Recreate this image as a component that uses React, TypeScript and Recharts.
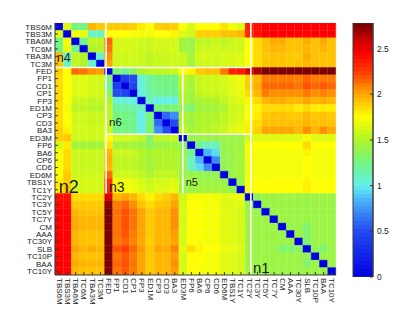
import React from 'react';
import { BarChart, Bar, Cell, XAxis, YAxis, ReferenceLine, ReferenceDot } from 'recharts';

const labels = ['TBS6M','TBS3M','TBA6M','TC6M','TBA3M','TC3M','FED','FP1','CD1','CP1','FP3','ED1M','CP3','CD3','BA3','ED3M','FP6','BA6','CP6','CD6','ED6M','TBS1Y','TC1Y','TC2Y','TC3Y','TC5Y','TC7Y','CM','AAA','TC30Y','SLB','TC10P','BAA','TC10Y'];

// distance matrix, one row per label (rows top to bottom, columns left to right)
const distances: number[][] = [
  [0,1.65,1.25,1.25,1.95,1.9, 1.9,1.9,1.9,1.88,1.8,1.75,1.88,1.9,1.88, 1.75,1.62,1.75,1.75,1.75,1.82,1.72,1.65, 2.35,2.4,2.45,2.45,2.45,2.45,2.45,2.45,2.45,2.45,2.45],
  [1.65,0,1.72,1.68,1.1,1.1, 1.75,1.75,1.75,1.72,1.72,1.7,1.75,1.75,1.78, 1.65,1.6,1.88,1.88,1.88,1.92,1.92,1.95, 2.32,2.4,2.45,2.45,2.45,2.45,2.45,2.45,2.45,2.45,2.45],
  [1.25,1.72,0,1.22,1.55,1.55, 2.15,1.62,1.62,1.62,1.6,1.58,1.62,1.62,1.62, 1.45,1.4,1.55,1.55,1.58,1.55,1.58,1.6, 1.75,1.85,1.92,1.98,1.98,1.92,1.92,1.98,1.92,1.98,1.92],
  [1.25,1.68,1.22,0,1.5,1.5, 2.12,1.62,1.62,1.62,1.58,1.58,1.6,1.6,1.62, 1.45,1.42,1.58,1.58,1.6,1.58,1.6,1.6, 1.75,1.85,1.92,1.95,1.95,1.92,1.92,1.95,1.92,1.95,1.92],
  [1.95,1.1,1.55,1.5,0,1.08, 2.05,1.6,1.6,1.6,1.58,1.55,1.58,1.58,1.6, 1.58,1.45,1.62,1.62,1.6,1.62,1.62,1.65, 1.75,1.85,1.9,1.92,1.92,1.9,1.9,1.98,1.92,1.92,1.92],
  [1.9,1.1,1.55,1.5,1.08,0, 2.0,1.6,1.6,1.6,1.58,1.55,1.58,1.58,1.6, 1.58,1.45,1.6,1.6,1.6,1.62,1.62,1.65, 1.75,1.85,1.92,1.92,1.92,1.9,1.92,1.95,1.92,1.92,1.92],
  [1.88,1.75,2.15,2.12,2.05,2.02, 0,1.3,1.22,1.35,1.5,1.55,1.55,1.55,1.58, 1.75,1.78,1.9,1.92,1.92,2.12,2.35,2.38, 2.55,2.65,2.75,2.75,2.75,2.75,2.75,2.75,2.75,2.75,2.75],
  [1.85,1.75,1.65,1.65,1.62,1.62, 1.3,0,0.4,0.5,1.05,1.18,1.25,1.25,1.25, 1.55,1.48,1.58,1.6,1.6,1.62,1.68,1.7, 1.88,1.95,2.1,2.1,2.1,2.1,2.08,2.15,2.1,2.1,2.1],
  [1.85,1.75,1.65,1.65,1.62,1.62, 1.22,0.4,0,0.45,1.05,1.18,1.25,1.25,1.25, 1.55,1.45,1.58,1.6,1.6,1.62,1.66,1.7, 1.9,1.98,2.15,2.15,2.15,2.15,2.12,2.2,2.15,2.18,2.15],
  [1.85,1.75,1.65,1.65,1.62,1.62, 1.35,0.5,0.45,0,1.02,1.15,1.22,1.22,1.22, 1.5,1.45,1.55,1.58,1.58,1.6,1.65,1.68, 1.85,1.95,2.1,2.05,2.05,2.05,2.05,2.1,2.05,2.08,2.05],
  [1.85,1.75,1.58,1.58,1.55,1.55, 1.5,1.05,1.05,1.02,0,1.1,1.0,1.0,1.02, 1.5,1.42,1.48,1.5,1.5,1.55,1.62,1.65, 1.78,1.85,1.95,1.98,1.98,1.95,1.95,2.0,1.95,1.98,1.95],
  [1.85,1.72,1.55,1.55,1.52,1.52, 1.55,1.18,1.18,1.15,1.1,0,1.28,1.28,1.3, 1.38,1.3,1.45,1.45,1.45,1.5,1.58,1.6, 1.72,1.78,1.85,1.85,1.85,1.85,1.8,1.85,1.8,1.8,1.8],
  [1.85,1.75,1.6,1.6,1.58,1.58, 1.55,1.25,1.25,1.22,1.0,1.28,0,0.6,0.72, 1.5,1.45,1.5,1.5,1.5,1.55,1.6,1.62, 1.75,1.8,1.9,1.92,1.92,1.9,1.9,1.95,1.9,1.92,1.9],
  [1.85,1.75,1.6,1.6,1.58,1.58, 1.55,1.25,1.25,1.22,1.0,1.28,0.6,0,0.5, 1.5,1.42,1.5,1.5,1.52,1.55,1.62,1.65, 1.78,1.85,1.92,1.92,1.92,1.92,1.92,1.95,1.92,1.92,1.92],
  [1.88,1.78,1.62,1.62,1.6,1.6, 1.58,1.25,1.25,1.22,1.02,1.3,0.72,0.5,0, 1.55,1.45,1.5,1.52,1.55,1.58,1.65,1.68, 1.8,1.88,2.0,2.0,2.0,2.0,1.95,2.05,1.95,2.05,1.98],
  [1.88,1.9,1.6,1.6,1.6,1.6, 1.75,1.62,1.62,1.6,1.55,1.35,1.55,1.55,1.58, 0,1.4,1.42,1.42,1.42,1.42,1.42,1.42, 1.6,1.65,1.65,1.65,1.65,1.65,1.65,1.72,1.65,1.65,1.65],
  [1.62,1.8,1.45,1.45,1.45,1.45, 1.82,1.45,1.45,1.45,1.42,1.35,1.42,1.42,1.45, 1.35,0,1.22,1.1,1.12,1.4,1.42,1.42, 1.72,1.75,1.75,1.75,1.75,1.75,1.75,1.85,1.75,1.75,1.75],
  [1.72,1.85,1.58,1.58,1.58,1.58, 1.95,1.58,1.58,1.58,1.5,1.48,1.5,1.5,1.5, 1.42,1.22,0,0.85,0.95,1.4,1.42,1.45, 1.72,1.72,1.72,1.72,1.72,1.72,1.72,1.78,1.72,1.72,1.72],
  [1.72,1.85,1.58,1.58,1.58,1.58, 1.98,1.55,1.55,1.55,1.5,1.45,1.5,1.5,1.5, 1.42,1.1,0.85,0,0.72,1.38,1.42,1.45, 1.7,1.72,1.72,1.72,1.72,1.72,1.72,1.75,1.72,1.72,1.72],
  [1.75,1.85,1.58,1.58,1.58,1.58, 1.95,1.55,1.55,1.55,1.5,1.45,1.5,1.52,1.52, 1.42,1.12,0.95,0.72,0,1.38,1.42,1.45, 1.7,1.72,1.72,1.72,1.72,1.72,1.72,1.75,1.72,1.72,1.72],
  [1.75,1.9,1.6,1.6,1.6,1.6, 2.15,1.6,1.6,1.6,1.55,1.5,1.55,1.55,1.55, 1.42,1.4,1.4,1.38,1.38,0,1.42,1.45, 1.7,1.72,1.72,1.72,1.72,1.72,1.72,1.75,1.72,1.72,1.72],
  [1.8,1.9,1.62,1.62,1.62,1.62, 2.3,1.7,1.7,1.68,1.62,1.58,1.62,1.62,1.65, 1.42,1.42,1.42,1.42,1.42,1.42,0,1.4, 1.72,1.75,1.75,1.75,1.75,1.75,1.75,1.78,1.75,1.75,1.75],
  [1.8,1.92,1.62,1.62,1.62,1.62, 2.32,1.72,1.72,1.7,1.65,1.6,1.65,1.65,1.68, 1.42,1.42,1.45,1.45,1.45,1.45,1.4,0, 1.72,1.75,1.75,1.75,1.75,1.75,1.75,1.78,1.75,1.75,1.75],
  [2.4,2.4,1.85,1.85,1.85,1.85, 2.55,1.95,2.0,1.95,1.85,1.78,1.85,1.88,1.95, 1.6,1.72,1.72,1.72,1.7,1.65,1.68,1.68, 0,1.38,1.42,1.42,1.42,1.42,1.42,1.42,1.42,1.42,1.42],
  [2.42,2.42,1.9,1.9,1.9,1.9, 2.72,2.1,2.15,2.05,1.92,1.85,1.9,1.92,2.0, 1.62,1.75,1.75,1.72,1.72,1.65,1.65,1.65, 1.38,0,1.4,1.42,1.42,1.42,1.42,1.4,1.42,1.42,1.42],
  [2.45,2.45,1.95,1.92,1.92,1.92, 2.75,2.12,2.2,2.12,2.0,1.9,1.95,1.95,2.05, 1.62,1.75,1.75,1.72,1.72,1.65,1.65,1.62, 1.42,1.4,0,1.42,1.42,1.42,1.42,1.42,1.42,1.42,1.42],
  [2.45,2.45,1.98,1.95,1.95,1.95, 2.75,2.12,2.2,2.12,2.0,1.9,1.95,1.95,2.05, 1.62,1.75,1.75,1.72,1.72,1.65,1.65,1.62, 1.42,1.42,1.42,0,1.42,1.42,1.42,1.42,1.42,1.42,1.42],
  [2.45,2.45,1.98,1.95,1.95,1.95, 2.75,2.12,2.2,2.12,2.0,1.9,1.95,1.95,2.05, 1.62,1.75,1.75,1.72,1.72,1.65,1.65,1.62, 1.42,1.42,1.42,1.42,0,1.4,1.42,1.3,1.42,1.42,1.42],
  [2.45,2.45,1.95,1.92,1.92,1.92, 2.75,2.12,2.2,2.1,2.0,1.9,1.95,1.95,2.02, 1.62,1.75,1.75,1.72,1.72,1.65,1.65,1.62, 1.42,1.42,1.42,1.42,1.4,0,1.42,1.32,1.42,1.42,1.42],
  [2.45,2.45,1.95,1.92,1.92,1.92, 2.75,2.1,2.15,2.08,1.98,1.88,1.95,1.95,2.0, 1.62,1.75,1.72,1.72,1.72,1.65,1.65,1.62, 1.42,1.42,1.42,1.42,1.42,1.42,0,1.3,1.42,1.42,1.42],
  [2.45,2.45,2.0,1.95,1.98,1.95, 2.75,2.2,2.25,2.15,2.02,1.9,2.0,1.98,2.08, 1.65,1.85,1.78,1.75,1.75,1.68,1.68,1.65, 1.42,1.4,1.42,1.42,1.3,1.3,1.35,0,1.38,1.3,1.42],
  [2.45,2.45,1.95,1.92,1.92,1.92, 2.75,2.12,2.18,2.1,2.0,1.9,1.95,1.95,2.02, 1.62,1.75,1.75,1.72,1.72,1.65,1.65,1.62, 1.42,1.42,1.42,1.42,1.42,1.42,1.42,1.38,0,1.42,1.42],
  [2.45,2.45,1.98,1.95,1.95,1.95, 2.75,2.15,2.2,2.12,2.0,1.9,1.95,1.95,2.05, 1.62,1.75,1.75,1.72,1.72,1.65,1.65,1.62, 1.42,1.42,1.42,1.42,1.42,1.42,1.42,1.3,1.42,0,1.42],
  [2.45,2.45,1.95,1.92,1.92,1.92, 2.75,2.12,2.18,2.1,2.0,1.9,1.95,1.95,2.02, 1.62,1.75,1.72,1.72,1.72,1.65,1.65,1.62, 1.42,1.42,1.42,1.42,1.42,1.42,1.42,1.42,1.42,1.42,0],
];

const colorbarTicks = [0, 0.5, 1, 1.5, 2, 2.5];
const colorMax = 2.78;
const colorLevels = 64;

// colormap stops: [value, r, g, b]
const cmapStops: number[][] = [
  [0, 0, 0, 225],
  [0.5, 35, 75, 240],
  [0.85, 75, 180, 250],
  [1.0, 100, 240, 235],
  [1.25, 115, 245, 130],
  [1.5, 175, 245, 40],
  [1.75, 255, 255, 0],
  [2.0, 255, 165, 0],
  [2.25, 255, 60, 0],
  [2.45, 255, 0, 0],
  [2.6, 200, 0, 0],
  [2.78, 110, 0, 0],
];

// cluster boundaries: [x1, y1, x2, y2] in cell units
const boundaries: number[][] = [
  [0, 6, 23, 6],
  [6, 0, 6, 23],
  [6, 15, 23, 15],
  [15, 6, 15, 23],
  [0, 23, 34, 23],
  [23, 0, 23, 34],
];

const clusterNames = ['n4', 'n2', 'n3', 'n6', 'n5', 'n1'];
const clusterX = [0.2, 0.45, 6.35, 6.35, 15.35, 23.25];
const clusterY = [5.3, 22.9, 22.85, 13.9, 22.0, 33.7];
const clusterSize = [12.5, 18, 14, 11.5, 11, 15];

const FONT = '"Liberation Sans", Arial, Helvetica, sans-serif';
const AXIS = '#3a3a3a';

function cmap(v: number): string {
  const s = cmapStops;
  if (v <= s[0][0]) return `rgb(${s[0][1]},${s[0][2]},${s[0][3]})`;
  for (let i = 1; i < s.length; i++) {
    if (v <= s[i][0]) {
      const t = (v - s[i - 1][0]) / (s[i][0] - s[i - 1][0]);
      const c = [1, 2, 3].map((k) => Math.round(s[i - 1][k] + t * (s[i][k] - s[i - 1][k])));
      return `rgb(${c[0]},${c[1]},${c[2]})`;
    }
  }
  const l = s[s.length - 1];
  return `rgb(${l[1]},${l[2]},${l[3]})`;
}

const columns = labels.map((name) => {
  const o: Record<string, any> = { name };
  labels.forEach((_, r) => { o['r' + r] = 1; });
  return o;
});
const centers = labels.map((_, i) => i + 0.5);

const XTick = (props: any) => {
  const { x, y, payload } = props;
  return (
    <text x={x} y={y} transform={`rotate(90, ${x}, ${y})`} textAnchor="start" dominantBaseline="central"
      fontSize={8} fontFamily={FONT} fill="#222">{payload.value}</text>
  );
};
const Empty = () => <g />;

export default function App() {
  const gradStops: React.ReactNode[] = [];
  // top of the bar (offset 0) is the highest level
  for (let k = 0; k < colorLevels; k++) {
    const i = colorLevels - 1 - k;
    const col = cmap(((i + 0.5) / colorLevels) * colorMax);
    gradStops.push(<stop key={'a' + k} offset={k / colorLevels} stopColor={col} />);
    gradStops.push(<stop key={'b' + k} offset={(k + 1) / colorLevels} stopColor={col} />);
  }
  return (
    <div style={{ position: 'absolute', left: 0, top: 0, width: 415, height: 312, background: '#fff' }}>
      <div style={{ position: 'absolute', left: 0, top: 0 }}>
        <BarChart width={345} height={312} data={columns} margin={{ top: 23, right: 9, bottom: 0, left: 0 }}
          barCategoryGap={0} barGap={0}>
          <XAxis xAxisId="cat" dataKey="name" type="category" orientation="bottom" height={37} interval={0}
            tickSize={-3} tickMargin={6} tick={<XTick />} stroke={AXIS} axisLine={{ stroke: AXIS }} tickLine={{ stroke: AXIS }} />
          <XAxis xAxisId="top" dataKey="name" type="category" orientation="top" height={0} interval={0}
            tickSize={-3} tick={<Empty />} axisLine={{ stroke: AXIS }} tickLine={{ stroke: AXIS }} />
          <XAxis xAxisId="num" type="number" domain={[0, 34]} allowDataOverflow hide />
          <YAxis yAxisId="left" type="number" domain={[0, 34]} reversed allowDataOverflow ticks={centers} interval={0}
            width={55} tickSize={-3} tickMargin={6} tickFormatter={(v: number) => labels[Math.floor(v)]}
            tick={{ fontSize: 8, fontFamily: FONT, fill: '#222' }} axisLine={{ stroke: AXIS }} tickLine={{ stroke: AXIS }} />
          <YAxis yAxisId="right" orientation="right" type="number" domain={[0, 34]} reversed allowDataOverflow ticks={centers}
            interval={0} width={0} tickSize={-3} tick={<Empty />} axisLine={{ stroke: AXIS }} tickLine={{ stroke: AXIS }} />
          {labels.map((_, r) => (
            <Bar key={r} dataKey={'r' + r} stackId="m" xAxisId="cat" yAxisId="left" isAnimationActive={false}>
              {labels.map((__, c) => {
                const col = cmap(distances[r][c]);
                return <Cell key={c} fill={col} stroke={col} strokeWidth={0.4} />;
              })}
            </Bar>
          ))}
          {boundaries.map((b, i) => (
            <ReferenceLine key={'s' + i} xAxisId="num" yAxisId="left"
              segment={[{ x: b[0], y: b[1] }, { x: b[2], y: b[3] }]} stroke="#ffffff" strokeWidth={1.6} />
          ))}
          {clusterNames.map((n, i) => (
            <ReferenceDot key={'n' + i} xAxisId="num" yAxisId="left" x={clusterX[i]} y={clusterY[i]} r={0}
              shape={(p: any) => (
                <text x={p.cx} y={p.cy} fontSize={clusterSize[i]} fontFamily={FONT} fill="#1a1a1a">{n}</text>
              )} />
          ))}
        </BarChart>
      </div>
      <div style={{ position: 'absolute', left: 340, top: 0 }}>
        <BarChart width={75} height={312} data={[{ name: 'cb', v: colorMax }]}
          margin={{ top: 23, right: 0, bottom: 35, left: 13 }} barCategoryGap={0}>
          <defs>
            <linearGradient id="cbgrad" x1="0" y1="0" x2="0" y2="1">{gradStops}</linearGradient>
          </defs>
          <XAxis dataKey="name" hide />
          <YAxis yAxisId="l" orientation="left" type="number" domain={[0, colorMax]} allowDataOverflow ticks={colorbarTicks}
            width={0} tickSize={-3} tick={<Empty />} axisLine={{ stroke: AXIS }} tickLine={{ stroke: AXIS }} />
          <YAxis yAxisId="r" orientation="right" type="number" domain={[0, colorMax]} allowDataOverflow ticks={colorbarTicks}
            interval={0} width={42} tickSize={-3} tickMargin={7}
            tick={{ fontSize: 8.5, fontFamily: FONT, fill: '#222' }} axisLine={{ stroke: AXIS }} tickLine={{ stroke: AXIS }} />
          <Bar dataKey="v" yAxisId="r" fill="url(#cbgrad)" stroke={AXIS} strokeWidth={1} isAnimationActive={false} />
        </BarChart>
      </div>
    </div>
  );
}
